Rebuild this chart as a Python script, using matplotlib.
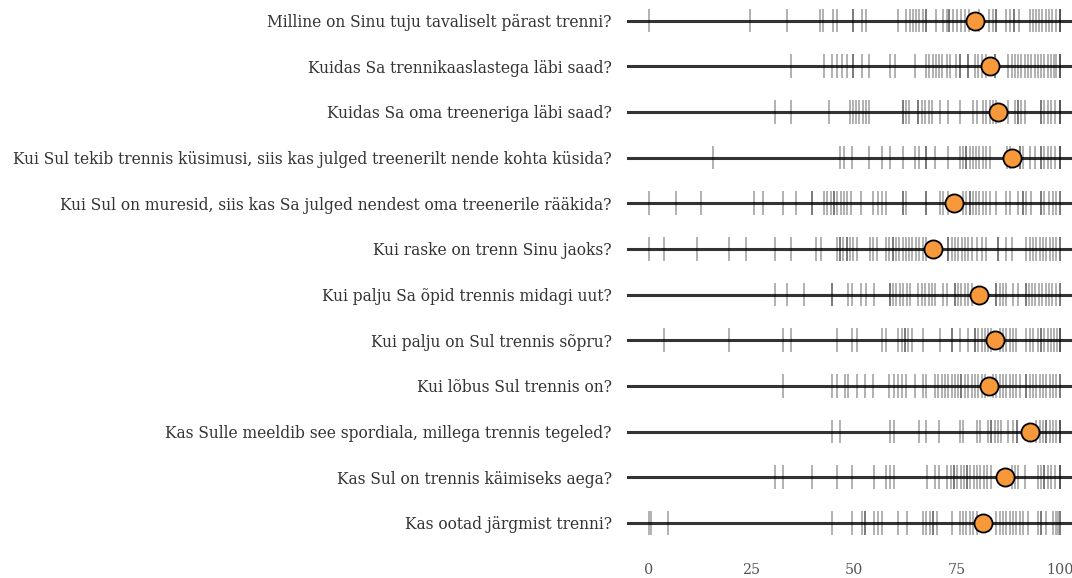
# Survey answers: rug of individual responses and mean per question

import numpy as np
import matplotlib.pyplot as plt

questions = [
    "Milline on Sinu tuju tavaliselt pärast trenni?",
    "Kuidas Sa trennikaaslastega läbi saad?",
    "Kuidas Sa oma treeneriga läbi saad?",
    "Kui Sul tekib trennis küsimusi, siis kas julged treenerilt nende kohta küsida?",
    "Kui Sul on muresid, siis kas Sa julged nendest oma treenerile rääkida?",
    "Kui raske on trenn Sinu jaoks?",
    "Kui palju Sa õpid trennis midagi uut?",
    "Kui palju on Sul trennis sõpru?",
    "Kui lõbus Sul trennis on?",
    "Kas Sulle meeldib see spordiala, millega trennis tegeled?",
    "Kas Sul on trennis käimiseks aega?",
    "Kas ootad järgmist trenni?",
]

# mean answer per question (orange dots)
means = [79.4, 83.0, 85.0, 88.3, 74.3, 69.2, 80.3, 84.2, 82.8, 92.7, 86.7, 81.3]

# individual answers per question (rug marks)
r1 = [0, 24.8, 33.8, 41.7, 42.5, 44.8, 45.8, 49.8, 49.8, 51.9, 52.9, 60.8, 62.7, 63.5, 64.3,
      65.1, 65.9, 66.7, 67.6, 67.6, 69.9, 71.7, 72.5, 73.1, 73.1, 74, 75, 76, 77, 78, 80.5,
      82.8, 83.7, 84.6, 84.6, 87, 88, 89, 89, 90, 92.7, 93.5, 94.3, 95, 95.8, 96.6, 97.4, 98.2,
      99, 100, 100, 100]
r2 = [34.7, 42.7, 44.6, 45.8, 47, 48.2, 49.8, 49.8, 51.9, 53.7, 58.7, 60, 64.8, 67.6, 68.3,
      69.1, 69.9, 70.7, 71.5, 72.5, 73.3, 74.9, 75.7, 75.7, 77.8, 77.8, 79.4, 80.2, 81, 82,
      84.2, 84.2, 87.5, 88.3, 89.1, 89.9, 90.7, 91.5, 92.3, 93.1, 93.9, 94.7, 95.5, 96.3, 97.1,
      97.9, 98.7, 99.2, 100, 100, 100]
r3 = [30.8, 34.7, 43.8, 48.9, 49.7, 50.5, 51.3, 52.1, 52.9, 53.7, 61.8, 61.8, 62.6, 63.4,
      65.6, 65.6, 66.4, 67.2, 68.1, 68.9, 70.8, 72.9, 75.7, 79, 79.8, 81.4, 82.2, 83, 83.8,
      84.6, 87.5, 89.1, 89.9, 89.9, 90.7, 91.5, 95.5, 95.5, 96.3, 97.1, 97.9, 98.8, 100, 100, 100]
r4 = [15.7, 46.6, 47.6, 49.6, 53.7, 56.7, 58.7, 61.8, 64.8, 65.8, 67.6, 67.6, 69.7, 72.9,
      75.7, 76.5, 77.3, 77.3, 78.1, 78.9, 79.7, 80.5, 81.4, 82.2, 83, 87.1, 87.9, 90.3, 90.3,
      91.1, 92.7, 93.9, 95.5, 95.5, 96.3, 97.1, 97.9, 98.8, 100, 100, 100]
r5 = [0, 6.8, 12.8, 25.7, 27.8, 32.8, 35.8, 39.7, 39.7, 42.7, 43.5, 44.3, 45.1, 45.1, 45.9,
      46.7, 47.5, 48.3, 49.2, 51.6, 54.7, 55.7, 56.7, 57.8, 61.8, 61.8, 62.6, 67.6, 67.6, 70.9,
      71.7, 72.9, 76.5, 77.3, 78.1, 78.1, 78.9, 79.7, 80.5, 81.3, 82.2, 83, 84.6, 87, 87.8,
      89.8, 91, 91, 91.8, 93.1, 95.5, 95.5, 96.3, 97.5, 98.4, 99.2, 100, 100]
r6 = [0, 3.7, 11.8, 19.7, 23.8, 30.8, 34.6, 40.7, 41.9, 45.8, 46.6, 46.6, 47.4, 48.2, 48.2,
      49, 49.8, 50.6, 53.9, 54.7, 55.5, 57.8, 58.6, 59.4, 59.4, 60.2, 61, 61.8, 62.6, 63.4,
      64.2, 65, 65.9, 66.7, 67.5, 72.9, 72.9, 73.7, 74.5, 75.3, 76.2, 77, 77.8, 78.6, 79.8,
      81, 82.2, 85, 85, 87, 88.3, 91.9, 92.7, 93.5, 94.3, 95.1, 95.9, 96.7, 97.6, 98.4, 99.2,
      100, 100]
r7 = [30.8, 33.8, 37.7, 44.7, 44.7, 48.6, 49.6, 51.6, 52.9, 54.9, 58.7, 58.7, 59.5, 60.3,
      61.1, 61.9, 62.8, 63.6, 65.6, 66.4, 67.2, 68.1, 68.9, 69.7, 71.7, 72.5, 74.5, 74.5, 75.3,
      76.1, 76.9, 77.8, 78.6, 84.6, 84.6, 85.4, 86.2, 87, 88.7, 89.9, 91.7, 91.7, 92.5, 93.3,
      94.1, 94.9, 95.7, 96.6, 97.4, 98.2, 99, 100, 100]
r8 = [3.7, 19.7, 32.8, 34.6, 45.8, 49.6, 50.6, 56.7, 57.7, 60.8, 61.6, 62.4, 62.4, 63.2, 64,
      66.8, 70.9, 73.7, 73.7, 75.7, 77.8, 79.4, 79.4, 80.2, 81, 81.8, 82.6, 83.4, 85.4, 86.2,
      87, 87.8, 88.7, 89.5, 91.7, 92.7, 93.5, 94.7, 95.5, 95.5, 96.3, 97.1, 97.9, 98.7, 99.4,
      100, 100, 100]
r9 = [32.8, 44.7, 45.8, 47.7, 48.6, 50.6, 52.7, 54.7, 58.6, 59.6, 60.6, 61.6, 62.6, 64.8,
      66.8, 67.6, 69.7, 70.5, 71.3, 72.1, 72.9, 73.7, 74.5, 75.3, 76.1, 76.1, 77, 77.8, 78.6,
      79.4, 80.2, 81, 81.8, 83.8, 84.6, 85.4, 86.2, 87, 87.8, 88.7, 89.5, 90.3, 91.7, 91.7,
      92.7, 93.5, 94.3, 95.1, 95.9, 96.7, 97.6, 98.4, 99.2, 100, 100]
r10 = [44.7, 46.6, 58.7, 59.7, 65.8, 67.6, 70.7, 75.7, 76.5, 79.8, 80.6, 82.6, 83.4, 83.4,
       84.2, 85, 85.8, 87.5, 88.7, 89.6, 89.6, 94.3, 95.1, 95.9, 96.7, 96.7, 97.6, 98.4, 99.2,
       100, 100, 100]
r11 = [30.8, 32.8, 39.7, 45.8, 49.6, 54.9, 57.8, 58.7, 59.7, 67.8, 69.7, 70.7, 72.7, 73.5,
       74.3, 74.3, 75.1, 75.9, 76.7, 77.5, 77.5, 78.3, 79.1, 79.9, 80.7, 81.5, 82.4, 83.2,
       88.3, 89.1, 89.9, 91.5, 94.7, 95.5, 96.3, 96.3, 97.1, 97.9, 98.8, 100, 100, 100]
r12 = [0, 0.6, 4.7, 44.7, 49.6, 51.9, 52.7, 52.7, 54.9, 55.7, 56.7, 60.8, 62.8, 66.8, 67.6,
       68.5, 69.3, 69.3, 70.1, 73.7, 75.7, 76.5, 77.3, 78.1, 78.9, 79.8, 84.6, 85.4, 86.2,
       87, 87.8, 88.7, 89.5, 90.3, 91.1, 92.3, 94.7, 95.5, 95.5, 96.7, 98.4, 99.2, 99.6, 100, 100]
answers = [r1, r2, r3, r4, r5, r6, r7, r8, r9, r10, r11, r12]

fig = plt.figure(figsize=(10.72, 5.78), dpi=100)
ax = fig.add_axes([0.585, 0.048, 0.415, 0.952])

for i, vals in enumerate(answers):
    ax.axhline(i, color="#333333", lw=2.2, zorder=1)
    ax.vlines(vals, i - 0.26, i + 0.26, color="black", lw=1.3, alpha=0.33, zorder=2)
    ax.scatter(means[i], i, s=170, color="#F7993A", edgecolor="black", linewidth=1.3, zorder=3)

ax.set_xlim(-5.2, 103)
ax.set_ylim(11.6, -0.45)
ax.set_yticks(range(len(questions)))
ax.set_yticklabels(questions, family="DejaVu Serif", fontsize=11.2, color="#333333")
ax.set_xticks([0, 25, 50, 75, 100])
ax.set_xticklabels(["0", "25", "50", "75", "100"], family="DejaVu Serif", fontsize=10.3, color="#555555")
ax.tick_params(axis="both", length=0)
ax.tick_params(axis="y", pad=11)
ax.tick_params(axis="x", pad=9)
for s in ax.spines.values():
    s.set_visible(False)

fig.savefig("out.png", dpi=100)
